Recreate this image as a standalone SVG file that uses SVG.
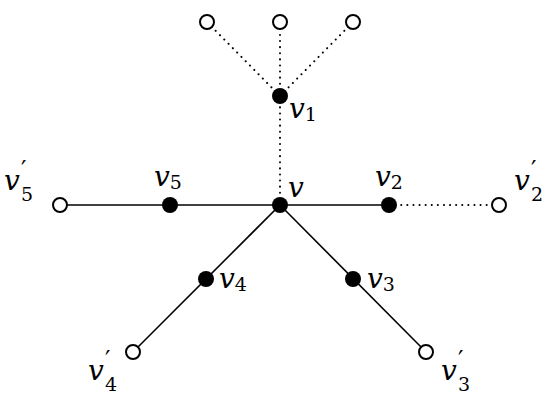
<svg xmlns="http://www.w3.org/2000/svg" width="550" height="400" viewBox="0 0 550 400">
<style>
.e{stroke:#000;stroke-width:1.6;fill:none}
.d{stroke:#000;stroke-width:2;fill:none;stroke-dasharray:0.1 6;stroke-linecap:round}
.f{fill:#000}
.o{fill:#fff;stroke:#000;stroke-width:2}
text{font-family:"DejaVu Serif","Liberation Serif",serif;font-size:28px;fill:#000}
.v{font-style:italic}
.s{font-size:19px;font-style:normal}
.p{font-size:24px;font-style:normal}
</style>
<rect width="550" height="400" fill="#fff"/>
<g id="edges">
<line class="d" x1="280" y1="96" x2="207" y2="22"/>
<line class="d" x1="280" y1="96" x2="280" y2="22"/>
<line class="d" x1="280" y1="96" x2="353" y2="22"/>
<line class="d" x1="280" y1="205" x2="280" y2="96"/>
<line class="d" x1="389" y1="205" x2="499" y2="205"/>
<line class="e" x1="60" y1="205" x2="389" y2="205"/>
<line class="e" x1="280" y1="205" x2="133" y2="352"/>
<line class="e" x1="280" y1="205" x2="426" y2="352"/>
</g>
<g id="t1"><circle class="o" cx="207" cy="22" r="7"/></g>
<g id="t2"><circle class="o" cx="280" cy="22" r="7"/></g>
<g id="t3"><circle class="o" cx="353" cy="22" r="7"/></g>
<g id="v1"><circle class="f" cx="280" cy="96" r="8"/><text x="289" y="118" class="v">v<tspan class="s" dy="3">1</tspan></text></g>
<g id="v"><circle class="f" cx="280" cy="205" r="8"/><text x="288" y="197" class="v">v</text></g>
<g id="v2"><circle class="f" cx="389" cy="205" r="8"/><text x="375" y="186" class="v">v<tspan class="s" dy="3">2</tspan></text></g>
<g id="v2p"><circle class="o" cx="499" cy="205" r="7"/><text x="514" y="190" class="v">v</text><text x="531" y="178" class="p">′</text><text x="531" y="201" class="s">2</text></g>
<g id="v5"><circle class="f" cx="170" cy="205" r="8"/><text x="154" y="186" class="v">v<tspan class="s" dy="3">5</tspan></text></g>
<g id="v5p"><circle class="o" cx="60" cy="205" r="7"/><text x="4" y="190" class="v">v</text><text x="21" y="178" class="p">′</text><text x="21" y="201" class="s">5</text></g>
<g id="v4"><circle class="f" cx="206" cy="279" r="8"/><text x="219" y="288" class="v">v<tspan class="s" dy="3">4</tspan></text></g>
<g id="v4p"><circle class="o" cx="133" cy="352" r="7"/><text x="88" y="380" class="v">v</text><text x="105" y="368" class="p">′</text><text x="105" y="391" class="s">4</text></g>
<g id="v3"><circle class="f" cx="353" cy="279" r="8"/><text x="367" y="288" class="v">v<tspan class="s" dy="3">3</tspan></text></g>
<g id="v3p"><circle class="o" cx="426" cy="352" r="7"/><text x="441" y="380" class="v">v</text><text x="458" y="368" class="p">′</text><text x="458" y="391" class="s">3</text></g>
</svg>
